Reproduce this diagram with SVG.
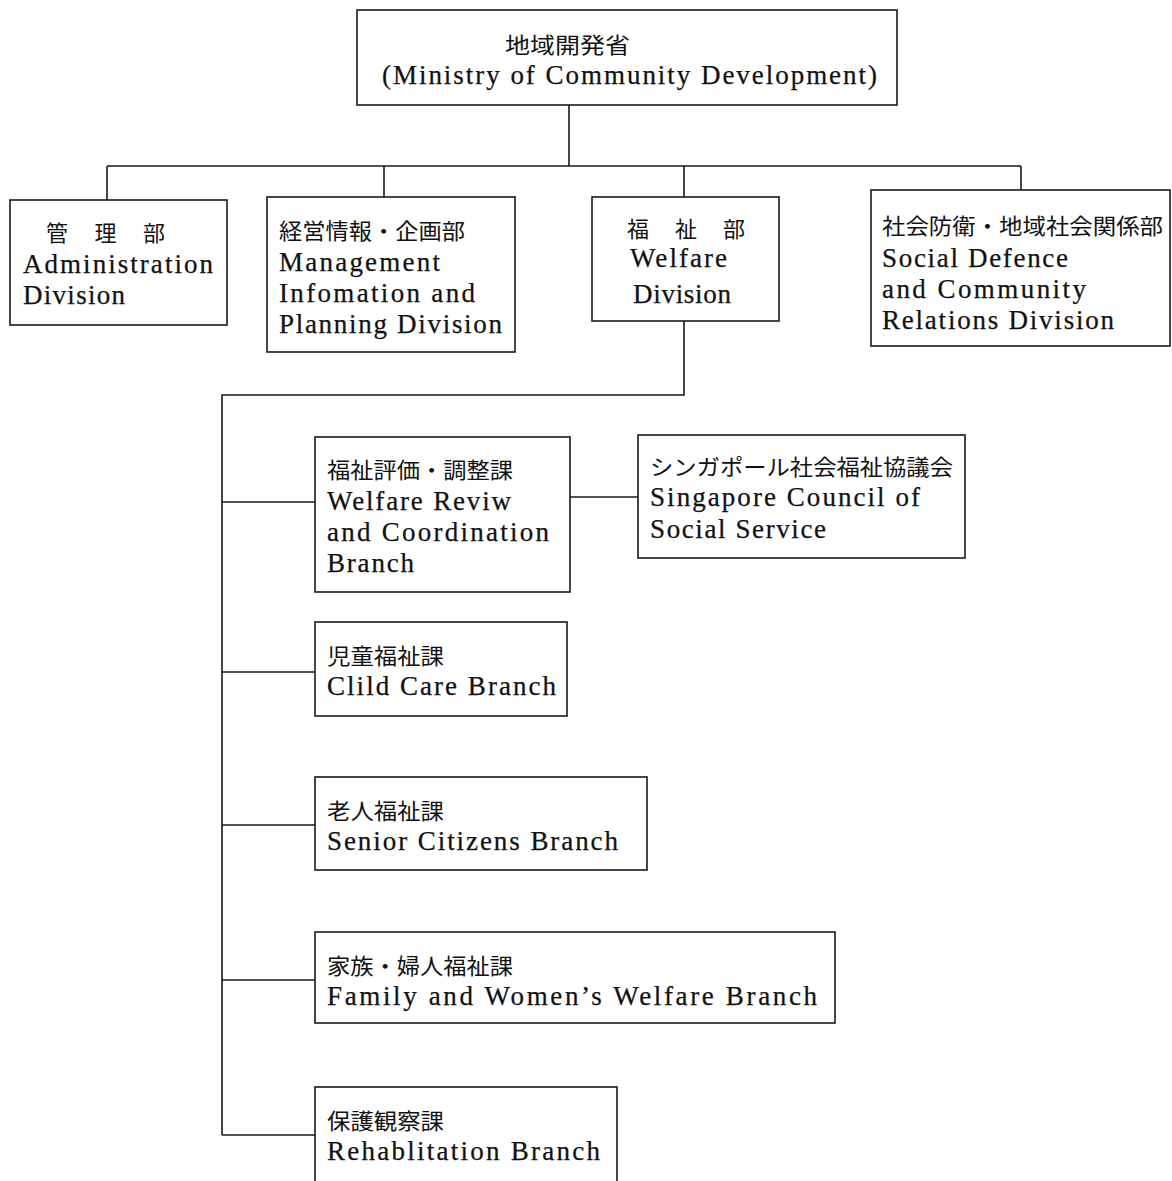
<svg xmlns="http://www.w3.org/2000/svg" width="1172" height="1181" viewBox="0 0 1172 1181">
  <style>
    .box { fill: #ffffff; stroke: #1a1a1a; stroke-width: 1.6; }
    .wire { fill: none; stroke: #1a1a1a; stroke-width: 1.6; }
    .en { font-family: "Liberation Serif", "DejaVu Serif", serif; font-size: 27px; fill: #111; stroke: #111; stroke-width: 0.25; }
    .jp { font-family: "Noto Sans CJK JP", "Noto Sans CJK SC", sans-serif; font-size: 22px; fill: #111; }
  </style>
  <rect width="1172" height="1181" fill="#ffffff"/>

  <!-- connectors -->
  <g id="connectors">
    <path class="wire" d="M569 105 V166"/>
    <path class="wire" d="M107 166 H1021"/>
    <path class="wire" d="M107 166 V200"/>
    <path class="wire" d="M384 166 V197"/>
    <path class="wire" d="M684 166 V197"/>
    <path class="wire" d="M1021 166 V190"/>
    <path class="wire" d="M684 321 V395 H222 V1135"/>
    <path class="wire" d="M222 502 H315"/>
    <path class="wire" d="M570 497 H638"/>
    <path class="wire" d="M222 672 H315"/>
    <path class="wire" d="M222 825 H315"/>
    <path class="wire" d="M222 980 H315"/>
    <path class="wire" d="M222 1135 H315"/>
  </g>

  <!-- ministry -->
  <g id="ministry">
    <rect class="box" x="357" y="10" width="540" height="95"/>
    <text class="jp" x="505" y="53" textLength="125" lengthAdjust="spacingAndGlyphs">地域開発省</text>
    <text class="en" x="382" y="84" textLength="495" lengthAdjust="spacing">(Ministry of Community Development)</text>
  </g>

  <!-- divisions -->
  <g id="admin-division">
    <rect class="box" x="10" y="200" width="217" height="125"/>
    <text class="jp" x="46" y="241" textLength="119" lengthAdjust="spacing">管 理 部</text>
    <text class="en" x="23" y="273" textLength="190" lengthAdjust="spacing">Administration</text>
    <text class="en" x="23" y="304" textLength="102" lengthAdjust="spacing">Division</text>
  </g>

  <g id="management-division">
    <rect class="box" x="267" y="197" width="248" height="155"/>
    <text class="jp" x="279" y="239" textLength="186" lengthAdjust="spacingAndGlyphs">経営情報・企画部</text>
    <text class="en" x="279" y="271" textLength="161" lengthAdjust="spacing">Management</text>
    <text class="en" x="279" y="302" textLength="196" lengthAdjust="spacing">Infomation and</text>
    <text class="en" x="279" y="333" textLength="223" lengthAdjust="spacing">Planning Division</text>
  </g>

  <g id="welfare-division">
    <rect class="box" x="592" y="197" width="187" height="124"/>
    <text class="jp" x="627" y="237" textLength="118" lengthAdjust="spacing">福 祉 部</text>
    <text class="en" x="630" y="267" textLength="97" lengthAdjust="spacing">Welfare</text>
    <text class="en" x="633" y="303" textLength="98" lengthAdjust="spacing">Division</text>
  </g>

  <g id="social-defence-division">
    <rect class="box" x="871" y="190" width="299" height="156"/>
    <text class="jp" x="882" y="234" textLength="281" lengthAdjust="spacingAndGlyphs">社会防衛・地域社会関係部</text>
    <text class="en" x="882" y="267" textLength="186" lengthAdjust="spacing">Social Defence</text>
    <text class="en" x="882" y="298" textLength="204" lengthAdjust="spacing">and Community</text>
    <text class="en" x="882" y="329" textLength="232" lengthAdjust="spacing">Relations Division</text>
  </g>

  <!-- branches under the welfare division -->
  <g id="review-branch">
    <rect class="box" x="315" y="437" width="255" height="155"/>
    <text class="jp" x="327" y="478" textLength="186" lengthAdjust="spacingAndGlyphs">福祉評価・調整課</text>
    <text class="en" x="327" y="510" textLength="184" lengthAdjust="spacing">Welfare Reviw</text>
    <text class="en" x="327" y="541" textLength="222" lengthAdjust="spacing">and Coordination</text>
    <text class="en" x="327" y="572" textLength="87" lengthAdjust="spacing">Branch</text>
  </g>

  <g id="council">
    <rect class="box" x="638" y="435" width="327" height="123"/>
    <text class="jp" x="650" y="475" textLength="303" lengthAdjust="spacingAndGlyphs">シンガポール社会福祉協議会</text>
    <text class="en" x="650" y="506" textLength="270" lengthAdjust="spacing">Singapore Council of</text>
    <text class="en" x="650" y="538" textLength="176" lengthAdjust="spacing">Social Service</text>
  </g>

  <g id="child-care-branch">
    <rect class="box" x="315" y="622" width="252" height="94"/>
    <text class="jp" x="327" y="664" textLength="117" lengthAdjust="spacingAndGlyphs">児童福祉課</text>
    <text class="en" x="327" y="695" textLength="229" lengthAdjust="spacing">Clild Care Branch</text>
  </g>

  <g id="senior-citizens-branch">
    <rect class="box" x="315" y="777" width="332" height="93"/>
    <text class="jp" x="327" y="819" textLength="117" lengthAdjust="spacingAndGlyphs">老人福祉課</text>
    <text class="en" x="327" y="850" textLength="291" lengthAdjust="spacing">Senior Citizens Branch</text>
  </g>

  <g id="family-branch">
    <rect class="box" x="315" y="932" width="520" height="91"/>
    <text class="jp" x="327" y="974" textLength="186" lengthAdjust="spacingAndGlyphs">家族・婦人福祉課</text>
    <text class="en" x="327" y="1005" textLength="490" lengthAdjust="spacing">Family and Women’s Welfare Branch</text>
  </g>

  <g id="rehabilitation-branch">
    <rect class="box" x="315" y="1087" width="302" height="110"/>
    <text class="jp" x="327" y="1129" textLength="117" lengthAdjust="spacingAndGlyphs">保護観察課</text>
    <text class="en" x="327" y="1160" textLength="273" lengthAdjust="spacing">Rehablitation Branch</text>
  </g>
</svg>
